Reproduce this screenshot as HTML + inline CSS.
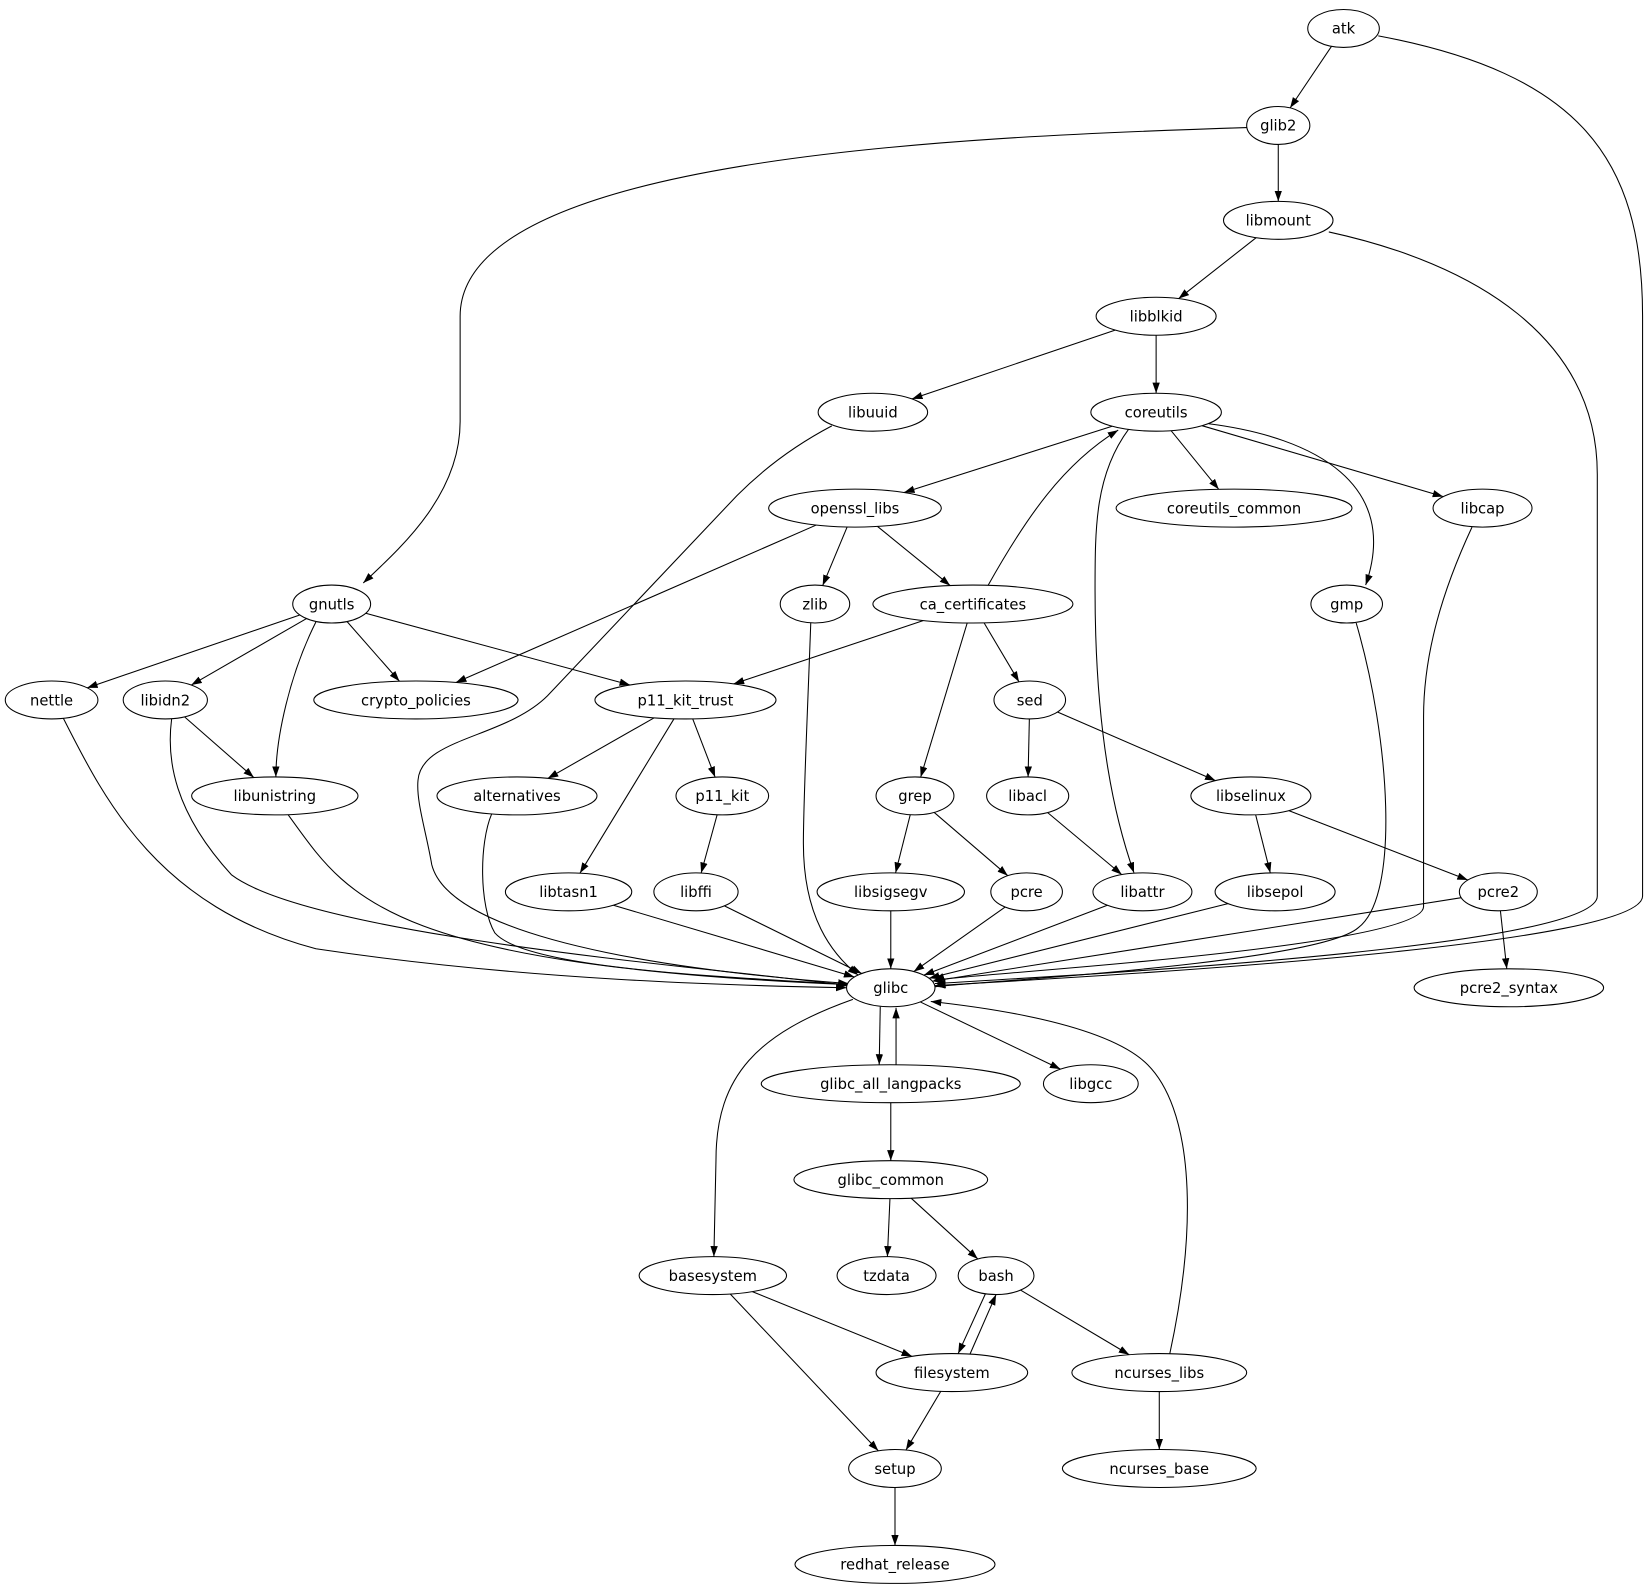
<!DOCTYPE html>
<html><head><meta charset="utf-8"><style>
html,body{margin:0;padding:0;background:#fff;}
svg{display:block;}
text{font-family:"DejaVu Sans","Liberation Sans",sans-serif;font-size:14px;fill:#000;}
</style></head><body>
<svg id="s" width="1651" height="1595" viewBox="0 0 1568 1513" preserveAspectRatio="none" xmlns="http://www.w3.org/2000/svg">
<defs><marker id="a" markerUnits="userSpaceOnUse" markerWidth="11" markerHeight="8" refX="10" refY="3.5" orient="auto"><path d="M0,0 L10,3.5 L0,7 z" fill="#000"/></marker></defs>
<g id="e" fill="none" stroke="#000" stroke-width="1"></g>
<g id="n" fill="#fff" stroke="#000">
<ellipse cx="1276" cy="27" rx="34" ry="18"/><text x="1276" y="32" text-anchor="middle" stroke="none">atk</text>
<ellipse cx="1214" cy="119" rx="30" ry="18"/><text x="1214" y="124" text-anchor="middle" stroke="none">glib2</text>
<ellipse cx="1214" cy="209" rx="52" ry="18"/><text x="1214" y="214" text-anchor="middle" stroke="none">libmount</text>
<ellipse cx="1098" cy="300" rx="57" ry="18"/><text x="1098" y="305" text-anchor="middle" stroke="none">libblkid</text>
<ellipse cx="829" cy="391" rx="52" ry="18"/><text x="829" y="396" text-anchor="middle" stroke="none">libuuid</text>
<ellipse cx="1098" cy="391" rx="62" ry="18"/><text x="1098" y="396" text-anchor="middle" stroke="none">coreutils</text>
<ellipse cx="812" cy="482" rx="82" ry="18"/><text x="812" y="487" text-anchor="middle" stroke="none">openssl_libs</text>
<ellipse cx="1172" cy="482" rx="112" ry="18"/><text x="1172" y="487" text-anchor="middle" stroke="none">coreutils_common</text>
<ellipse cx="1408" cy="482" rx="47" ry="18"/><text x="1408" y="487" text-anchor="middle" stroke="none">libcap</text>
<ellipse cx="315" cy="573" rx="37" ry="18"/><text x="315" y="578" text-anchor="middle" stroke="none">gnutls</text>
<ellipse cx="774" cy="573" rx="33" ry="18"/><text x="774" y="578" text-anchor="middle" stroke="none">zlib</text>
<ellipse cx="924" cy="573" rx="95" ry="18"/><text x="924" y="578" text-anchor="middle" stroke="none">ca_certificates</text>
<ellipse cx="1279" cy="573" rx="34" ry="18"/><text x="1279" y="578" text-anchor="middle" stroke="none">gmp</text>
<ellipse cx="49" cy="664" rx="44" ry="18"/><text x="49" y="669" text-anchor="middle" stroke="none">nettle</text>
<ellipse cx="157" cy="664" rx="40" ry="18"/><text x="157" y="669" text-anchor="middle" stroke="none">libidn2</text>
<ellipse cx="395" cy="664" rx="97" ry="18"/><text x="395" y="669" text-anchor="middle" stroke="none">crypto_policies</text>
<ellipse cx="651" cy="664" rx="86" ry="18"/><text x="651" y="669" text-anchor="middle" stroke="none">p11_kit_trust</text>
<ellipse cx="978" cy="664" rx="34" ry="18"/><text x="978" y="669" text-anchor="middle" stroke="none">sed</text>
<ellipse cx="261" cy="755" rx="79" ry="18"/><text x="261" y="760" text-anchor="middle" stroke="none">libunistring</text>
<ellipse cx="491" cy="755" rx="76" ry="18"/><text x="491" y="760" text-anchor="middle" stroke="none">alternatives</text>
<ellipse cx="686" cy="755" rx="44" ry="18"/><text x="686" y="760" text-anchor="middle" stroke="none">p11_kit</text>
<ellipse cx="869" cy="755" rx="37" ry="18"/><text x="869" y="760" text-anchor="middle" stroke="none">grep</text>
<ellipse cx="976" cy="755" rx="39" ry="18"/><text x="976" y="760" text-anchor="middle" stroke="none">libacl</text>
<ellipse cx="1188" cy="755" rx="57" ry="18"/><text x="1188" y="760" text-anchor="middle" stroke="none">libselinux</text>
<ellipse cx="540" cy="846" rx="60" ry="18"/><text x="540" y="851" text-anchor="middle" stroke="none">libtasn1</text>
<ellipse cx="661" cy="846" rx="40" ry="18"/><text x="661" y="851" text-anchor="middle" stroke="none">libffi</text>
<ellipse cx="846" cy="846" rx="70" ry="18"/><text x="846" y="851" text-anchor="middle" stroke="none">libsigsegv</text>
<ellipse cx="975" cy="846" rx="34" ry="18"/><text x="975" y="851" text-anchor="middle" stroke="none">pcre</text>
<ellipse cx="1085" cy="846" rx="47" ry="18"/><text x="1085" y="851" text-anchor="middle" stroke="none">libattr</text>
<ellipse cx="1211" cy="846" rx="57" ry="18"/><text x="1211" y="851" text-anchor="middle" stroke="none">libsepol</text>
<ellipse cx="1423" cy="846" rx="37" ry="18"/><text x="1423" y="851" text-anchor="middle" stroke="none">pcre2</text>
<ellipse cx="846" cy="937" rx="42" ry="18"/><text x="846" y="942" text-anchor="middle" stroke="none">glibc</text>
<ellipse cx="1433" cy="937" rx="90" ry="18"/><text x="1433" y="942" text-anchor="middle" stroke="none">pcre2_syntax</text>
<ellipse cx="846" cy="1028" rx="123" ry="18"/><text x="846" y="1033" text-anchor="middle" stroke="none">glibc_all_langpacks</text>
<ellipse cx="1036" cy="1028" rx="45" ry="18"/><text x="1036" y="1033" text-anchor="middle" stroke="none">libgcc</text>
<ellipse cx="846" cy="1119" rx="92" ry="18"/><text x="846" y="1124" text-anchor="middle" stroke="none">glibc_common</text>
<ellipse cx="677" cy="1210" rx="70" ry="18"/><text x="677" y="1215" text-anchor="middle" stroke="none">basesystem</text>
<ellipse cx="842" cy="1210" rx="47" ry="18"/><text x="842" y="1215" text-anchor="middle" stroke="none">tzdata</text>
<ellipse cx="946" cy="1210" rx="36" ry="18"/><text x="946" y="1215" text-anchor="middle" stroke="none">bash</text>
<ellipse cx="904" cy="1302" rx="72" ry="18"/><text x="904" y="1307" text-anchor="middle" stroke="none">filesystem</text>
<ellipse cx="1101" cy="1302" rx="83" ry="18"/><text x="1101" y="1307" text-anchor="middle" stroke="none">ncurses_libs</text>
<ellipse cx="850" cy="1393" rx="44" ry="18"/><text x="850" y="1398" text-anchor="middle" stroke="none">setup</text>
<ellipse cx="1101" cy="1393" rx="92" ry="18"/><text x="1101" y="1398" text-anchor="middle" stroke="none">ncurses_base</text>
<ellipse cx="850" cy="1484" rx="95" ry="18"/><text x="850" y="1489" text-anchor="middle" stroke="none">redhat_release</text>
</g>
</svg>
<script>
var N={};
document.querySelectorAll('#n ellipse').forEach(function(el){
 var t=el.nextElementSibling.textContent;
 N[t]=[+el.getAttribute('cx'),+el.getAttribute('cy'),+el.getAttribute('rx'),18];});
function bd(n,tx,ty){var c=N[n],dx=tx-c[0],dy=ty-c[1];var k=1/Math.sqrt(dx*dx/(c[2]*c[2])+dy*dy/(c[3]*c[3]));return [c[0]+dx*k,c[1]+dy*k];}
var g=document.getElementById('e');
function P(d){var p=document.createElementNS('http://www.w3.org/2000/svg','path');p.setAttribute('d',d);p.setAttribute('marker-end','url(#a)');g.appendChild(p);}
var S="atk glib2,glib2 libmount,libmount libblkid,libblkid libuuid,libblkid coreutils,coreutils openssl_libs,coreutils coreutils_common,coreutils libcap,openssl_libs crypto_policies,openssl_libs zlib,openssl_libs ca_certificates,ca_certificates p11_kit_trust,ca_certificates sed,ca_certificates grep,gnutls nettle,gnutls libidn2,gnutls crypto_policies,gnutls p11_kit_trust,libidn2 libunistring,p11_kit_trust alternatives,p11_kit_trust p11_kit,p11_kit_trust libtasn1,sed libacl,sed libselinux,p11_kit libffi,grep libsigsegv,grep pcre,libacl libattr,libselinux libsepol,libselinux pcre2,pcre2 pcre2_syntax,libtasn1 glibc,libffi glibc,libsigsegv glibc,pcre glibc,libattr glibc,libsepol glibc,pcre2 glibc,glibc libgcc,glibc_all_langpacks glibc_common,glibc_common tzdata,glibc_common bash,bash ncurses_libs,basesystem filesystem,basesystem setup,filesystem setup,ncurses_libs ncurses_base,setup redhat_release".split(',');
S.forEach(function(s){var a=s.split(' '),A=N[a[0]],B=N[a[1]];var p=bd(a[0],B[0],B[1]),q=bd(a[1],A[0],A[1]);P('M'+p[0]+','+p[1]+' L'+q[0]+','+q[1]);});
[
"M1309,34 C1500,70 1560,150 1560,300 L1560,850 C1560,900 1000,928 888,935",
"M1184,121 C900,130 437,150 437,300 L437,400 C437,470 380,520 345,553",
"M1262,220 C1400,250 1517,320 1517,450 L1517,850 C1517,900 1000,926 888,933",
"M790,404 C750,425 720,450 700,470 L520,660 C480,700 400,700 397,740 C395,760 405,790 410,820 C430,900 700,925 806,933",
"M1072,407 C1040,450 1040,500 1040,560 C1040,700 1060,780 1077,828",
"M1148,402 C1250,415 1330,460 1297,555",
"M938,556 C975,490 1010,440 1062,408",
"M1398,500 C1370,560 1352,620 1352,680 L1352,860 C1352,900 900,925 887,930",
"M1288,591 C1320,700 1330,850 1290,880 C1250,915 900,933 888,936",
"M770,591 C766,700 763,760 763,800 C763,870 790,905 815,925",
"M60,681 C100,760 150,860 300,900 C500,930 700,935 804,937",
"M163,682 C158,720 165,770 220,830 C300,890 700,920 806,935",
"M273,772 C330,850 360,915 806,934",
"M467,772 C455,800 455,860 470,885 C500,920 700,927 807,934",
"M300,590 C275,640 262,700 262,737",
"M810,948 C720,980 680,1020 680,1100 L678,1192",
"M1111,1284 C1140,1150 1130,1050 1090,1010 C1050,970 930,955 884,950",
"M836,955 L835,1010",
"M851,1010 L851,956",
"M936,1227 L910,1284",
"M921,1285 L946,1228"
].forEach(P);
</script>
</body></html>
